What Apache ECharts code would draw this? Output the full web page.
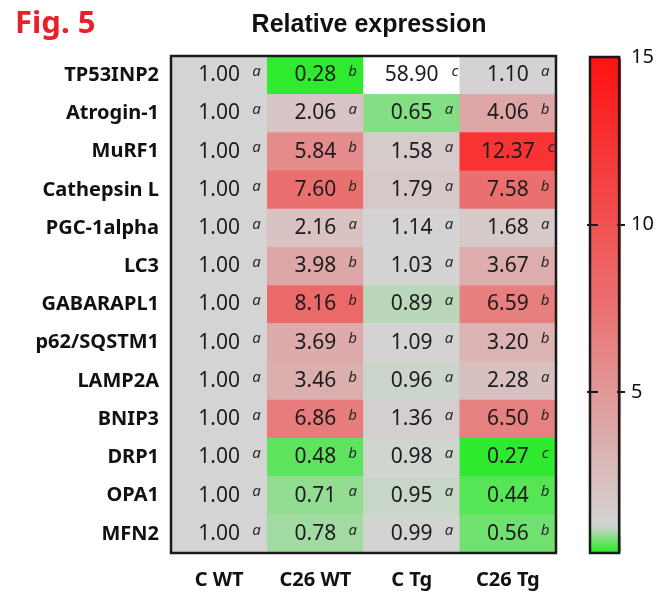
<!DOCTYPE html>
<html><head><meta charset="utf-8">
<script src="https://cdn.jsdelivr.net/npm/echarts@6/dist/echarts.min.js"></script>
<style>html,body{margin:0;padding:0;background:#fff}#c{width:657px;height:597px}</style>
</head><body><div id="c"></div>
<script>
const genes = ['TP53INP2','Atrogin-1','MuRF1','Cathepsin L','PGC-1alpha','LC3','GABARAPL1','p62/SQSTM1','LAMP2A','BNIP3','DRP1','OPA1','MFN2'];
const groups = ['C WT','C26 WT','C Tg','C26 Tg'];
const cWT = [1.00,1.00,1.00,1.00,1.00,1.00,1.00,1.00,1.00,1.00,1.00,1.00,1.00];
const c26WT = [0.28,2.06,5.84,7.60,2.16,3.98,8.16,3.69,3.46,6.86,0.48,0.71,0.78];
const cTg = [58.90,0.65,1.58,1.79,1.14,1.03,0.89,1.09,0.96,1.36,0.98,0.95,0.99];
const c26Tg = [1.10,4.06,12.37,7.58,1.68,3.67,6.59,3.20,2.28,6.50,0.27,0.44,0.56];
const lettersCWT = ['a','a','a','a','a','a','a','a','a','a','a','a','a'];
const lettersC26WT = ['b','a','b','b','a','b','b','b','b','b','b','a','a'];
const lettersCTg = ['c','a','a','a','a','a','a','a','a','a','a','a','a'];
const lettersC26Tg = ['a','b','c','b','a','b','b','b','a','b','c','b','b'];
const colorbarLabels = [5,10,15];
const colorbarTicks = [5,10];

const values = [cWT, c26WT, cTg, c26Tg];
const letters = [lettersCWT, lettersC26WT, lettersCTg, lettersC26Tg];
const data = [];
values.forEach((col, xi) => col.forEach((v, yi) => data.push([xi, yi, v])));

// colour scale anchors (value -> rgb)
const anchors = [[0.2,[30,236,30]],[1.0,[212,212,212]],[7.6,[234,112,112]],[15,[255,18,18]]];
function colorAt(v){
  for (let i=1;i<anchors.length;i++){
    if (v <= anchors[i][0]+1e-9){
      const [v0,c0]=anchors[i-1],[v1,c1]=anchors[i];
      const t=(v-v0)/(v1-v0);
      const c=c0.map((x,k)=>Math.round(x+(c1[k]-x)*t));
      return 'rgb('+c.join(',')+')';
    }
  }
  return 'rgb(255,18,18)';
}
const vmMin = 0.2, vmMax = 15;
const palette = [];
for (let i=0;i<=148;i++) palette.push(colorAt(vmMin + (vmMax-vmMin)*i/148));

const chart = echarts.init(document.getElementById('c'));
const dark = '#1a1a1a';
chart.setOption({
  animation:false,
  backgroundColor:'#fff',
  title:[
    {text:'Fig. 5', left:10, top:4, textStyle:{fontFamily:'Noto Sans', fontWeight:'bold', fontSize:31, color:'#e8202a'}},
    {text:'Relative expression', left:364, textAlign:'center', top:8, textStyle:{fontFamily:'Liberation Sans', fontWeight:'bold', fontSize:25, color:'#111'}}
  ],
  grid:[
    {left:171, top:56, width:385, height:497, show:true, borderColor:dark, borderWidth:2.5, backgroundColor:'transparent', z:3},
    {left:590, top:57, width:31, height:496, show:true, borderColor:dark, borderWidth:2.5, backgroundColor:'transparent', z:5}
  ],
  xAxis:[
    {type:'category', data:groups, gridIndex:0, position:'bottom', axisLine:{show:false}, axisTick:{show:false}, splitLine:{show:false},
     axisLabel:{margin:17, fontFamily:'Noto Sans', fontWeight:'bold', fontSize:20, color:'#111'}},
    {type:'value', gridIndex:1, show:false}
  ],
  yAxis:[
    {type:'category', data:genes, gridIndex:0, inverse:true, axisLine:{show:false}, axisTick:{show:false}, splitLine:{show:false},
     axisLabel:{margin:12, fontFamily:'Noto Sans', fontWeight:'bold', fontSize:20, color:'#111'}},
    {type:'value', gridIndex:1, min:vmMin, max:vmMax, position:'left', offset:3, z:8,
     axisLine:{show:false}, splitLine:{show:false},
     axisTick:{show:true, inside:true, length:35, lineStyle:{color:dark, width:2, type:[8,19,8]}, customValues:colorbarTicks},
     axisLabel:{show:false}},
    {type:'value', gridIndex:1, min:vmMin, max:vmMax, position:'left', offset:-5, z:8,
     axisLine:{show:false}, splitLine:{show:false},
     axisTick:{show:true, inside:false, length:8, lineStyle:{color:dark, width:2}, customValues:colorbarTicks},
     axisLabel:{show:false}},
    {type:'value', gridIndex:1, min:vmMin, max:vmMax, position:'right', z:8,
     axisLine:{show:false}, splitLine:{show:false}, axisTick:{show:false},
     axisLabel:{margin:12, fontFamily:'Noto Sans', fontSize:20, color:'#111', customValues:colorbarLabels}}
  ],
  visualMap:{
    type:'continuous', min:vmMin, max:vmMax+0.0001, range:[vmMin, vmMax], calculable:false,
    seriesIndex:0, dimension:2, orient:'vertical', left:590, top:57, itemWidth:31, itemHeight:496, padding:0, z:1,
    inRange:{color:palette}, outOfRange:{color:'#ffffff'}, hoverLink:false
  },
  series:[{
    type:'heatmap', xAxisIndex:0, yAxisIndex:0, data:data, z:2,
    emphasis:{disabled:true},
    label:{
      show:true,
      formatter:p => '{p|}{v|' + p.value[2].toFixed(2) + '}{s|' + letters[p.value[0]][p.value[1]] + '}',
      rich:{
        p:{width:21},
        v:{fontFamily:'Noto Sans', fontSize:21, color:'#1c1c1c'},
        s:{fontFamily:'Noto Sans', fontSize:15, fontStyle:'italic', color:'#2a2a2a', padding:[0,0,7,12], width:9}
      }
    }
  }]
});
</script></body></html>
